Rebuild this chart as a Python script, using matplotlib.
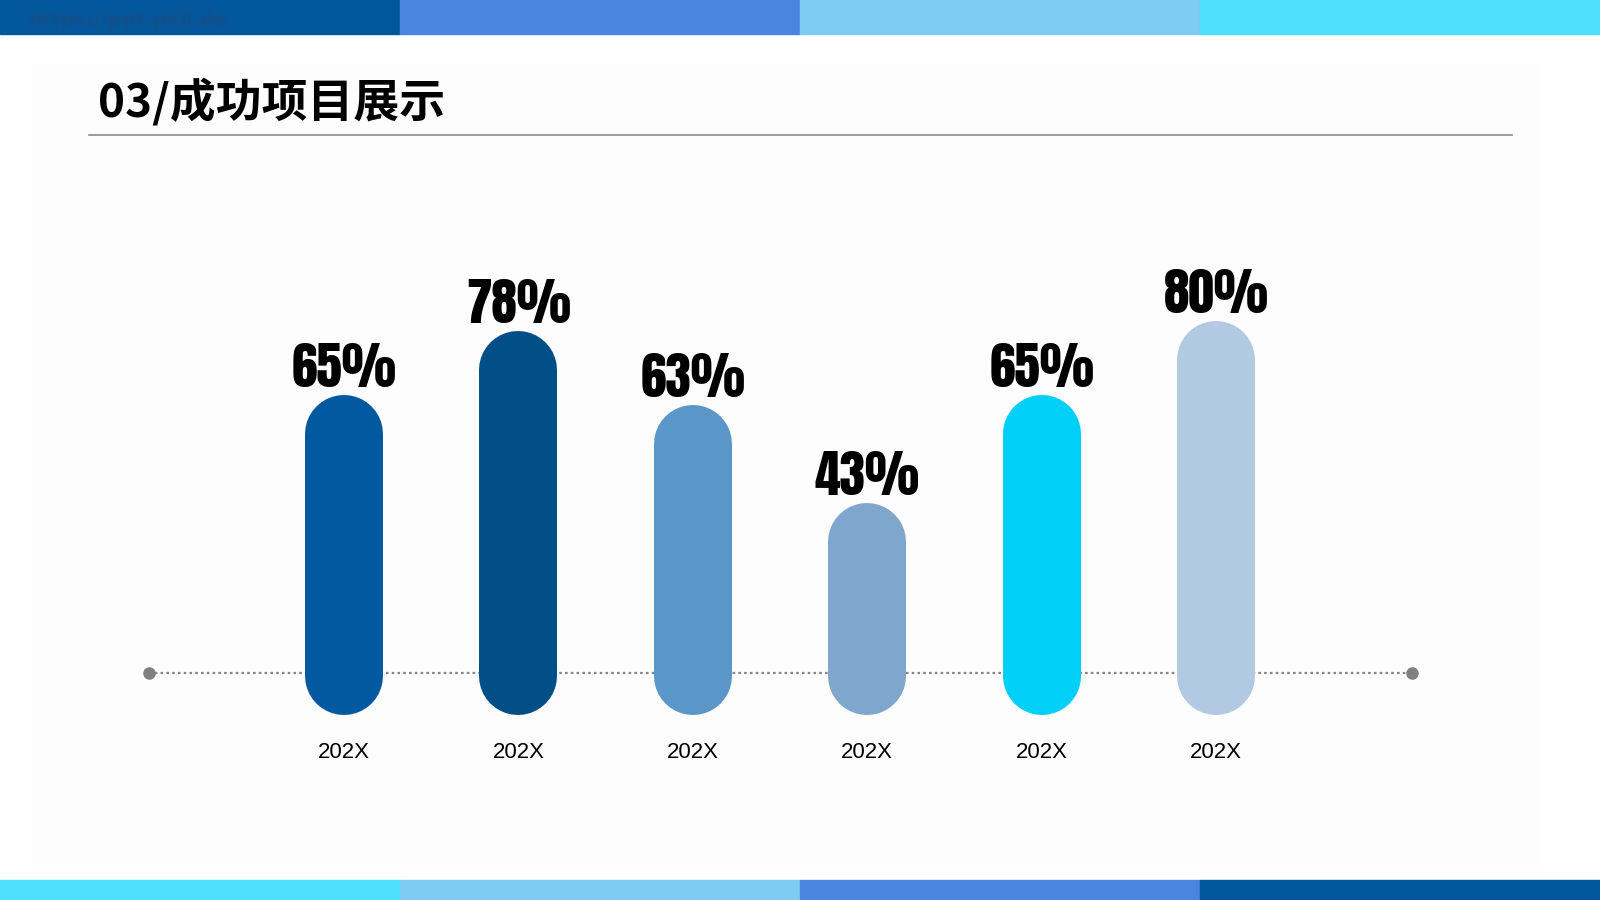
import matplotlib.pyplot as plt
from matplotlib.patches import Rectangle

# chart data
years = ['202X', '202X', '202X', '202X', '202X', '202X']
values = [65, 78, 63, 43, 65, 80]
bar_colors = ['#02599f', '#014f86', '#5a96c8', '#7fa6cc', '#00cff7', '#b2c9e3']

title = '03/成功项目展示'
watermark = 'https://ppt.pkll.de'
top_stripes = ['#02579c', '#4a86e0', '#7ecbf3', '#50dffc']
bottom_stripes = ['#50dffc', '#7ecbf3', '#4a86e0', '#02579c']

label_fonts = ['Anton', 'Oswald', 'IBM Plex Sans Condensed', 'DejaVu Sans']

W, H = 1600, 900
fig = plt.figure(figsize=(16, 9), dpi=100, facecolor='white')

# faint background panel
fig.patches.append(Rectangle((32 / W, 36 / H), 1508 / W, 800 / H,
                             transform=fig.transFigure, color='#fdfdfd', zorder=0))

# colour stripes top and bottom
for i, c in enumerate(top_stripes):
    fig.patches.append(Rectangle((i * 0.25, 1 - 34 / H), 0.25, 34 / H,
                                 transform=fig.transFigure, color=c, zorder=1))
for i, c in enumerate(bottom_stripes):
    fig.patches.append(Rectangle((i * 0.25, 0), 0.25, 20 / H,
                                 transform=fig.transFigure, color=c, zorder=1))

fig.text(28 / W, 1 - 20 / H, watermark, fontsize=14, color='#134f88',
         fontweight='bold', va='center', ha='left', zorder=2)

# title + rule
fig.text(98 / W, 1 - 103 / H, title, fontsize=33, fontweight='heavy',
         family=['Noto Sans CJK SC', 'DejaVu Sans'], va='center', ha='left')
fig.add_artist(plt.Line2D([89 / W, 1512 / W], [1 - 135 / H, 1 - 135 / H],
                          transform=fig.transFigure, color='#8c8c8c', lw=1.2))

# chart axes over the whole figure; index on x, percent on y
px_per_x = 174.4
px_per_y = 4.92
x0_px = 344
y0_px = 185  # from bottom
ax = fig.add_axes([0, 0, 1, 1], zorder=5)
ax.set_xlim(-x0_px / px_per_x, (W - x0_px) / px_per_x)
ax.set_ylim(-y0_px / px_per_y, (H - y0_px) / px_per_y)
ax.axis('off')
ax.patch.set_alpha(0)

# dotted base line
base_y = 8.5
xl, xr = (149 - x0_px) / px_per_x, (1412 - x0_px) / px_per_x
ax.plot([xl, xr], [base_y, base_y], color='#888888', lw=1.6,
        linestyle=(0, (1.2, 1.4)), zorder=2)
ax.plot([xl, xr], [base_y, base_y], 'o', color='#808080', ms=8, zorder=2)

# pill shaped bars: thick lines with round caps
bar_px = 78
r = bar_px / 2 / px_per_y
lw_pt = bar_px * 72 / 100
for i, (v, c) in enumerate(zip(values, bar_colors)):
    ax.plot([i, i], [r, v - r], color=c, lw=lw_pt, solid_capstyle='round', zorder=3)
    ax.text(i, v + 0.4, f'{v}%', ha='center', va='bottom', fontsize=37,
            fontweight='bold', family=label_fonts, color='black', zorder=4)
    ax.text(i, -7.7, years[i], ha='center', va='center', fontsize=16,
            family=['Liberation Sans', 'DejaVu Sans'], color='black')

fig.savefig('out.png', dpi=100, facecolor='white')
